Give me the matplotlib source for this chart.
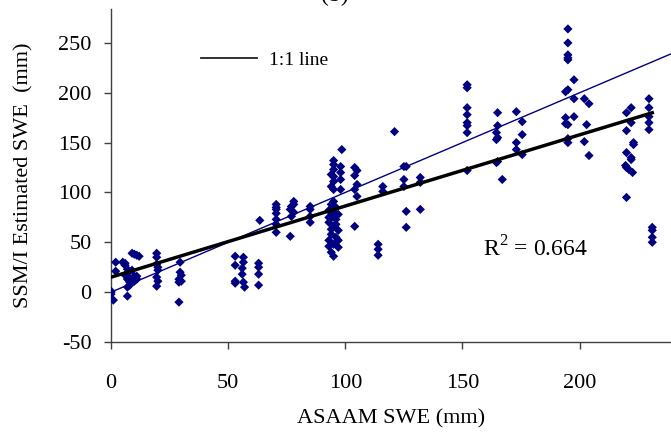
import matplotlib
matplotlib.use('Agg')
import matplotlib.pyplot as plt
from matplotlib.lines import Line2D
import numpy as np

plt.rcParams['font.family'] = ['Liberation Serif', 'DejaVu Serif']
plt.rcParams['axes.unicode_minus'] = False
plt.rcParams['mathtext.fontset'] = 'custom'
plt.rcParams['mathtext.rm'] = 'Liberation Serif'

# ASAAM SWE (mm) vs SSM/I estimated SWE (mm)
asaam_swe = [
    0, 0, 1, 2, 2, 0,
    5, 6, 6, 7, 7, 7, 8, 7, 7, 9, 10, 11, 12, 10, 11, 10, 8, 8, 6, 9, 11,
    19.5, 19.5, 19.5, 20, 19.5, 20, 19.5, 20,
    29.5, 29.5, 30, 29, 29, 30, 29,
    53, 53, 53, 53, 56.5, 56.5, 56, 56, 56.5, 57, 63, 63, 63, 63, 63.5,
    70.5, 70.5, 70.5, 70.5, 70.5, 70.5, 70.5,
    78, 77, 76.5, 78, 77, 76.5, 78,
    85, 85, 85, 85,
    95, 95, 95, 95, 95, 95, 98, 98, 98, 98.5, 98, 94, 94,
    95, 94, 96, 93, 95, 97, 94, 96, 93, 95, 97, 94, 96, 93, 95, 97, 94, 95,
    93, 96, 94, 97, 93,
    104, 105, 104, 105, 104, 105, 104,
    114, 114, 114, 116, 116,
    121, 125, 126, 125, 125, 126, 126, 132, 132, 132,
    152, 152, 152, 152, 152, 152, 152, 152,
    165, 165, 164.5, 165, 164.5, 164.5, 165, 167,
    173, 175.5, 175.5, 173, 173, 175.5,
    195, 195, 195, 195, 195, 197.6, 195, 194, 197.6, 194, 195, 194, 195, 195,
    197.6,
    202, 204, 203, 202, 204,
    222, 220, 222, 220, 223, 223, 220, 222, 222, 219.6, 220, 221, 222.6, 220,
    229.6, 229.6, 229.6, 229.6, 229.6, 231, 231, 231, 231,
]
ssmi_swe = [
    0, -2, -8, 30, 21, 1,
    30, 27, 29, 23, 19, 13, 10, 5, -4, 39, 38, 37, 36, 16, 13, 11, 7, 14, 17,
    22, 16,
    39, 35, 28, 25, 15, 11, 6, 22,
    30, 20, 11, 10, -10, 17, 13,
    36, 27, 11, 9, 35, 30, 24, 18, 10, 5, 29, 25, 18, 7, 72,
    88, 85, 83, 79, 73, 68, 60,
    91, 86, 83, 80, 76, 56, 88,
    86, 83, 76, 70,
    132, 128, 123, 116, 111, 103, 126, 120, 113, 143, 103, 118, 106,
    91, 88, 85, 82, 80, 78, 75, 73, 70, 66, 62, 58, 55, 52, 48, 45, 40, 36,
    75, 68, 63, 52, 46,
    125, 122, 117, 108, 103, 96, 66,
    48, 43, 37, 106, 101,
    161, 126, 126, 113, 106, 81, 65, 115, 110, 83,
    208, 205, 185, 178, 170, 167, 160, 122,
    180, 167, 160, 155, 153, 130, 131, 113,
    181, 171, 158, 150, 143, 138,
    264, 250, 238, 235, 233, 213, 203, 201, 194, 175, 168, 169, 154, 150,
    176,
    194, 189, 168, 151, 137,
    185, 180, 170, 162, 150, 148, 140, 135, 133, 127, 125, 123, 120, 95,
    194, 185, 176, 170, 163, 65, 62, 55, 50,
]

# regression line and 1:1 line
fit_intercept = 15.0
fit_slope = 0.714
fit_x = [0, 231]
one_x = [0, 240]

r2_text = r'R$^2$ = 0.664'

fig = plt.figure(figsize=(6.71, 4.36), dpi=100)
ax = fig.add_axes([111/671, 1 - 342/436, 1 - 111/671, (342 - 9)/436])

ax.scatter(asaam_swe, ssmi_swe, marker='D', s=22, color='#000080',
           edgecolors='none', zorder=3)
ax.plot(one_x, one_x, color='#000080', lw=1.0, zorder=2)
fx = np.array(fit_x)
ax.plot(fx, fit_intercept + fit_slope*fx, color='black', lw=2.5, zorder=4)

ax.set_xlim(0, 239)
ax.set_ylim(-50, 284)
ax.set_xticks([0, 50, 100, 150, 200])
ax.set_yticks([-50, 0, 50, 100, 150, 200, 250])

for s in ['top', 'right']:
    ax.spines[s].set_visible(False)
for s in ['left', 'bottom']:
    ax.spines[s].set_color('#404040')
    ax.spines[s].set_linewidth(1.0)

ax.tick_params(axis='both', direction='out', length=5, width=1.0,
               color='#404040', labelsize=16)
ax.tick_params(axis='x', pad=18)
ax.tick_params(axis='y', pad=9)

ax.set_xlabel('ASAAM SWE (mm)', fontsize=16, labelpad=12)
ax.set_ylabel('SSM/I Estimated SWE  (mm)', fontsize=16)
ax.yaxis.set_label_coords(-0.139, 0.5)

ax.text(158.6, 43, r2_text, fontsize=17, va='center', ha='left')

leg_handle = Line2D([0], [0], color='#202020', lw=1.3)
fig.legend([leg_handle], ['1:1 line'], loc='center left',
           bbox_to_anchor=(201/671, 1 - 60/436), frameon=False,
           fontsize=14, handlelength=2.9, handletextpad=0.6,
           borderpad=0, borderaxespad=0)

fig.text(335/671, 1 - 6/436, '(b)', fontsize=17, ha='center', va='bottom')

fig.savefig('out.png', dpi=100)
